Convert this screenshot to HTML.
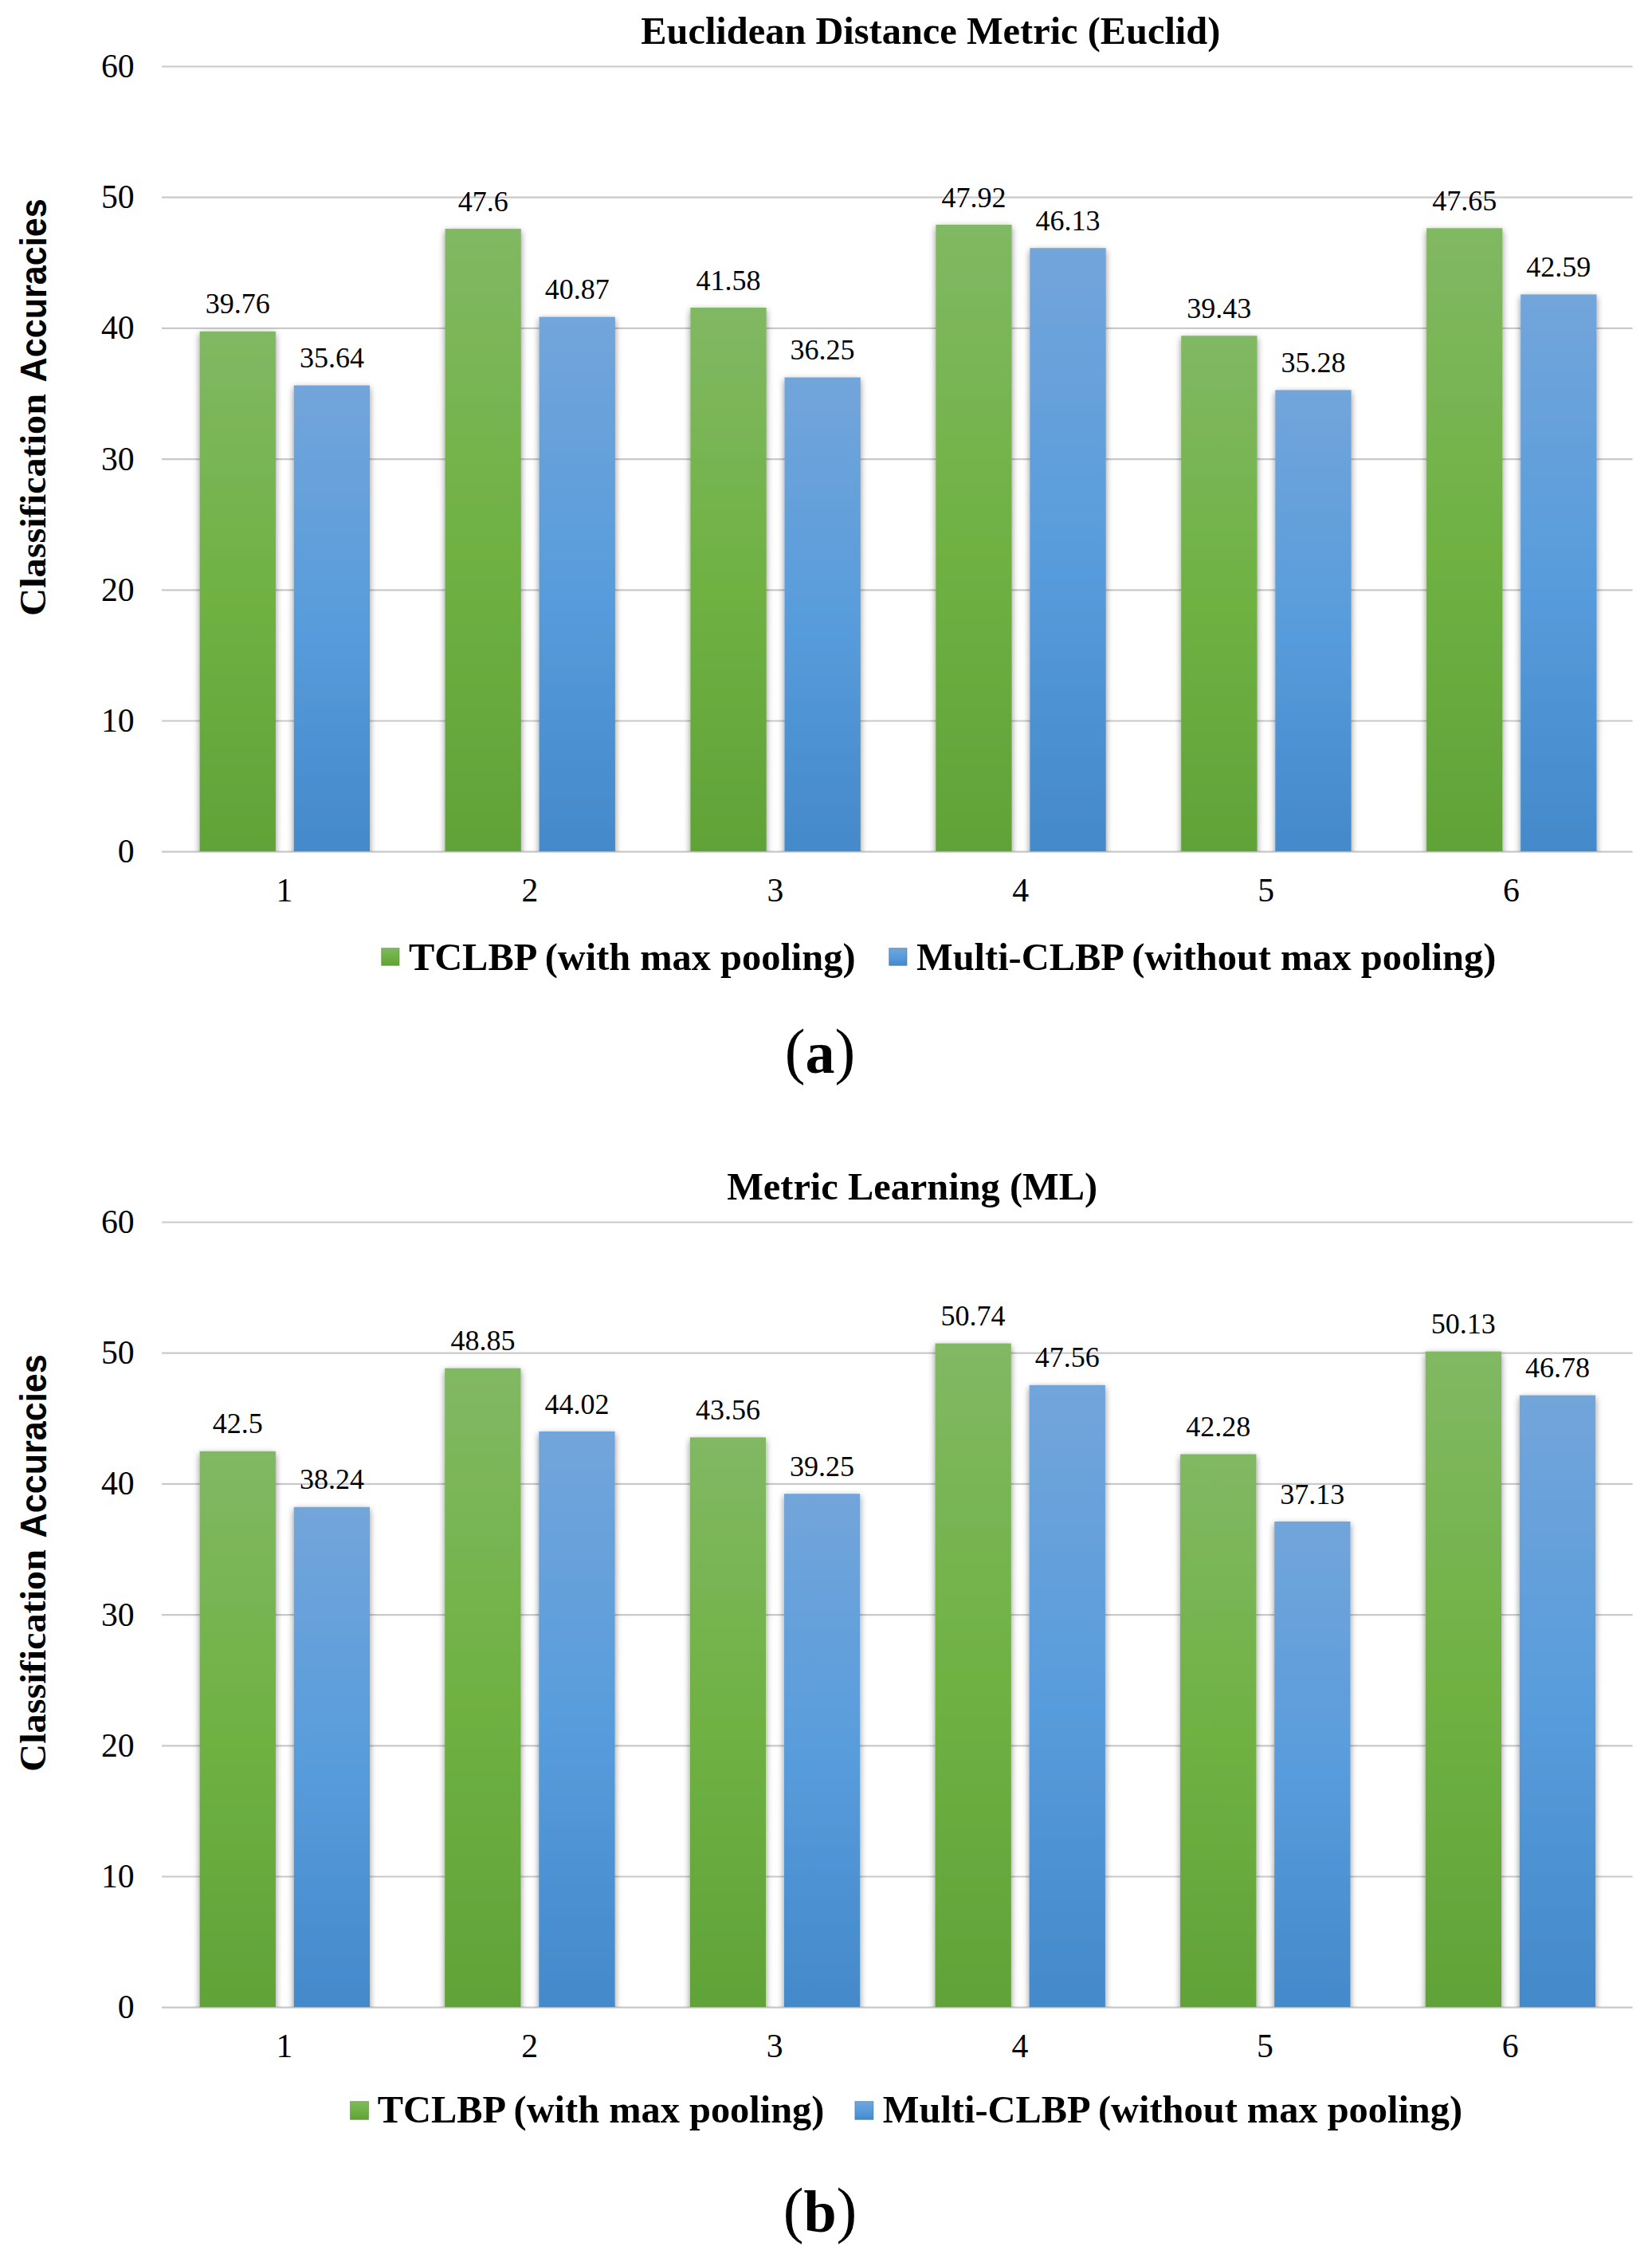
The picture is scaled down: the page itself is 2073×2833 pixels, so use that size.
<!DOCTYPE html>
<html lang="en"><head><meta charset="utf-8"><title>Classification Accuracies</title>
<style>
html,body{margin:0;padding:0;background:#fff;}
body{width:2073px;height:2833px;overflow:hidden;}
svg{display:block;}
text{fill:#000;font-family:"Liberation Serif","Times New Roman",serif;}
.b{font-weight:bold;font-size:48.40px;}
.tick{font-size:41.70px;}
.dl{font-size:36.00px;text-anchor:middle;}
.yl{font-variant-ligatures:none;}
.sans{font-family:"Liberation Sans",Arial,sans-serif;font-weight:bold;}
.sub{font-size:74px;text-anchor:middle;}
</style></head><body>
<svg width="2073" height="2833" viewBox="0 0 2073 2833">
<defs>
<linearGradient id="gg" x1="0" y1="0" x2="0" y2="1">
<stop offset="0" stop-color="#81b863"/><stop offset="0.5" stop-color="#6fb143"/><stop offset="1" stop-color="#60a237"/>
</linearGradient>
<linearGradient id="gb" x1="0" y1="0" x2="0" y2="1">
<stop offset="0" stop-color="#72a5da"/><stop offset="0.5" stop-color="#589cdc"/><stop offset="1" stop-color="#4389c9"/>
</linearGradient>
<filter id="sh" x="-20%" y="-5%" width="140%" height="110%">
<feGaussianBlur in="SourceAlpha" stdDeviation="4.00"/>
<feOffset dx="0" dy="2.50" result="o"/>
<feComponentTransfer><feFuncA type="linear" slope="0.45"/></feComponentTransfer>
<feMerge><feMergeNode/><feMergeNode in="SourceGraphic"/></feMerge>
</filter>
</defs>
<rect width="2073" height="2833" fill="#fff"/>

<g id="chart0">
<text class="b" x="1167.8" y="54.9" text-anchor="middle">Euclidean Distance Metric (Euclid)</text>
<line x1="203.0" x2="2048.6" y1="1068.7" y2="1068.7" stroke="#c9c9c9" stroke-width="2.2"/>
<line x1="203.0" x2="2048.6" y1="904.5" y2="904.5" stroke="#c9c9c9" stroke-width="2.2"/>
<line x1="203.0" x2="2048.6" y1="740.3" y2="740.3" stroke="#c9c9c9" stroke-width="2.2"/>
<line x1="203.0" x2="2048.6" y1="576.1" y2="576.1" stroke="#c9c9c9" stroke-width="2.2"/>
<line x1="203.0" x2="2048.6" y1="411.9" y2="411.9" stroke="#c9c9c9" stroke-width="2.2"/>
<line x1="203.0" x2="2048.6" y1="247.7" y2="247.7" stroke="#c9c9c9" stroke-width="2.2"/>
<line x1="203.0" x2="2048.6" y1="83.5" y2="83.5" stroke="#c9c9c9" stroke-width="2.2"/>
<text class="tick" x="168.6" y="1082.2" text-anchor="end">0</text>
<text class="tick" x="168.6" y="918.0" text-anchor="end">10</text>
<text class="tick" x="168.6" y="753.8" text-anchor="end">20</text>
<text class="tick" x="168.6" y="589.6" text-anchor="end">30</text>
<text class="tick" x="168.6" y="425.4" text-anchor="end">40</text>
<text class="tick" x="168.6" y="261.2" text-anchor="end">50</text>
<text class="tick" x="168.6" y="97.0" text-anchor="end">60</text>
<text class="b yl" transform="translate(57.4,772.7) rotate(-90) scale(1.0310,1)" style="font-size:46.8px">Classification</text>
<text class="b sans yl" transform="translate(58.1,479.4) rotate(-90) scale(0.9377,1)" style="font-size:46.0px">Accuracies</text>
<clipPath id="cp0"><rect x="203.0" y="43.5" width="1845.6" height="1024.7"/></clipPath>
<g clip-path="url(#cp0)">
<rect x="250.6" y="415.8" width="95.3" height="660.4" fill="url(#gg)" filter="url(#sh)"/>
<rect x="368.7" y="483.5" width="95.3" height="592.7" fill="url(#gb)" filter="url(#sh)"/>
<rect x="558.5" y="287.1" width="95.3" height="789.1" fill="url(#gg)" filter="url(#sh)"/>
<rect x="676.6" y="397.6" width="95.3" height="678.6" fill="url(#gb)" filter="url(#sh)"/>
<rect x="866.4" y="386.0" width="95.3" height="690.2" fill="url(#gg)" filter="url(#sh)"/>
<rect x="984.5" y="473.5" width="95.3" height="602.7" fill="url(#gb)" filter="url(#sh)"/>
<rect x="1174.3" y="281.9" width="95.3" height="794.3" fill="url(#gg)" filter="url(#sh)"/>
<rect x="1292.4" y="311.2" width="95.3" height="765.0" fill="url(#gb)" filter="url(#sh)"/>
<rect x="1482.2" y="421.3" width="95.3" height="654.9" fill="url(#gg)" filter="url(#sh)"/>
<rect x="1600.3" y="489.4" width="95.3" height="586.8" fill="url(#gb)" filter="url(#sh)"/>
<rect x="1790.1" y="286.3" width="95.3" height="789.9" fill="url(#gg)" filter="url(#sh)"/>
<rect x="1908.2" y="369.4" width="95.3" height="706.8" fill="url(#gb)" filter="url(#sh)"/>
</g>
<text class="dl" x="298.2" y="393.4">39.76</text>
<text class="dl" x="416.4" y="461.1">35.64</text>
<text class="tick" x="357.0" y="1130.9" text-anchor="middle">1</text>
<text class="dl" x="606.2" y="264.7">47.6</text>
<text class="dl" x="724.2" y="375.2">40.87</text>
<text class="tick" x="664.9" y="1130.9" text-anchor="middle">2</text>
<text class="dl" x="914.0" y="363.6">41.58</text>
<text class="dl" x="1032.1" y="451.1">36.25</text>
<text class="tick" x="972.8" y="1130.9" text-anchor="middle">3</text>
<text class="dl" x="1222.0" y="259.5">47.92</text>
<text class="dl" x="1340.0" y="288.8">46.13</text>
<text class="tick" x="1280.7" y="1130.9" text-anchor="middle">4</text>
<text class="dl" x="1529.8" y="398.9">39.43</text>
<text class="dl" x="1647.9" y="467.0">35.28</text>
<text class="tick" x="1588.6" y="1130.9" text-anchor="middle">5</text>
<text class="dl" x="1837.8" y="263.9">47.65</text>
<text class="dl" x="1955.8" y="347.0">42.59</text>
<text class="tick" x="1896.5" y="1130.9" text-anchor="middle">6</text>
<rect x="478.7" y="1189.6" width="22.3" height="21.7" fill="url(#gg)" stroke="#4f8a2c" stroke-opacity="0.55" stroke-width="1"/>
<text class="b" x="512.9" y="1216.6">TCLBP (with max pooling)</text>
<rect x="1115.7" y="1189.6" width="22.3" height="21.7" fill="url(#gb)" stroke="#2f6fae" stroke-opacity="0.55" stroke-width="1"/>
<text class="b" x="1150.0" y="1216.6">Multi-CLBP (without max pooling)</text>
<text class="sub" x="1029.0" y="1346.0"><tspan font-size="77.3" dy="-1">(</tspan><tspan font-weight="bold" dy="1">a</tspan><tspan font-size="77.3" dy="-1">)</tspan></text>
</g>
<g id="chart1">
<text class="b" x="1144.6" y="1504.9" text-anchor="middle">Metric Learning (ML)</text>
<line x1="203.0" x2="2048.6" y1="2518.7" y2="2518.7" stroke="#c9c9c9" stroke-width="2.2"/>
<line x1="203.0" x2="2048.6" y1="2354.5" y2="2354.5" stroke="#c9c9c9" stroke-width="2.2"/>
<line x1="203.0" x2="2048.6" y1="2190.3" y2="2190.3" stroke="#c9c9c9" stroke-width="2.2"/>
<line x1="203.0" x2="2048.6" y1="2026.1" y2="2026.1" stroke="#c9c9c9" stroke-width="2.2"/>
<line x1="203.0" x2="2048.6" y1="1861.9" y2="1861.9" stroke="#c9c9c9" stroke-width="2.2"/>
<line x1="203.0" x2="2048.6" y1="1697.7" y2="1697.7" stroke="#c9c9c9" stroke-width="2.2"/>
<line x1="203.0" x2="2048.6" y1="1533.5" y2="1533.5" stroke="#c9c9c9" stroke-width="2.2"/>
<text class="tick" x="168.6" y="2532.2" text-anchor="end">0</text>
<text class="tick" x="168.6" y="2368.0" text-anchor="end">10</text>
<text class="tick" x="168.6" y="2203.8" text-anchor="end">20</text>
<text class="tick" x="168.6" y="2039.6" text-anchor="end">30</text>
<text class="tick" x="168.6" y="1875.4" text-anchor="end">40</text>
<text class="tick" x="168.6" y="1711.2" text-anchor="end">50</text>
<text class="tick" x="168.6" y="1547.0" text-anchor="end">60</text>
<text class="b yl" transform="translate(57.4,2222.7) rotate(-90) scale(1.0310,1)" style="font-size:46.8px">Classification</text>
<text class="b sans yl" transform="translate(58.1,1929.4) rotate(-90) scale(0.9377,1)" style="font-size:46.0px">Accuracies</text>
<clipPath id="cp1"><rect x="203.0" y="1493.5" width="1845.6" height="1024.7"/></clipPath>
<g clip-path="url(#cp1)">
<rect x="250.6" y="1820.8" width="95.3" height="705.3" fill="url(#gg)" filter="url(#sh)"/>
<rect x="368.7" y="1890.8" width="95.3" height="635.4" fill="url(#gb)" filter="url(#sh)"/>
<rect x="558.2" y="1716.6" width="95.3" height="809.6" fill="url(#gg)" filter="url(#sh)"/>
<rect x="676.3" y="1795.9" width="95.3" height="730.3" fill="url(#gb)" filter="url(#sh)"/>
<rect x="865.8" y="1803.4" width="95.3" height="722.8" fill="url(#gg)" filter="url(#sh)"/>
<rect x="983.9" y="1874.2" width="95.3" height="652.0" fill="url(#gb)" filter="url(#sh)"/>
<rect x="1173.5" y="1685.5" width="95.3" height="840.7" fill="url(#gg)" filter="url(#sh)"/>
<rect x="1291.6" y="1737.8" width="95.3" height="788.4" fill="url(#gb)" filter="url(#sh)"/>
<rect x="1481.1" y="1824.5" width="95.3" height="701.7" fill="url(#gg)" filter="url(#sh)"/>
<rect x="1599.2" y="1909.0" width="95.3" height="617.2" fill="url(#gb)" filter="url(#sh)"/>
<rect x="1788.7" y="1695.6" width="95.3" height="830.6" fill="url(#gg)" filter="url(#sh)"/>
<rect x="1906.8" y="1750.6" width="95.3" height="775.6" fill="url(#gb)" filter="url(#sh)"/>
</g>
<text class="dl" x="298.2" y="1798.4">42.5</text>
<text class="dl" x="416.4" y="1868.4">38.24</text>
<text class="tick" x="357.0" y="2580.9" text-anchor="middle">1</text>
<text class="dl" x="605.9" y="1694.2">48.85</text>
<text class="dl" x="724.0" y="1773.5">44.02</text>
<text class="tick" x="664.6" y="2580.9" text-anchor="middle">2</text>
<text class="dl" x="913.5" y="1781.0">43.56</text>
<text class="dl" x="1031.6" y="1851.8">39.25</text>
<text class="tick" x="972.2" y="2580.9" text-anchor="middle">3</text>
<text class="dl" x="1221.1" y="1663.1">50.74</text>
<text class="dl" x="1339.2" y="1715.4">47.56</text>
<text class="tick" x="1279.9" y="2580.9" text-anchor="middle">4</text>
<text class="dl" x="1528.7" y="1802.1">42.28</text>
<text class="dl" x="1646.8" y="1886.6">37.13</text>
<text class="tick" x="1587.5" y="2580.9" text-anchor="middle">5</text>
<text class="dl" x="1836.3" y="1673.2">50.13</text>
<text class="dl" x="1954.4" y="1728.2">46.78</text>
<text class="tick" x="1895.1" y="2580.9" text-anchor="middle">6</text>
<rect x="439.5" y="2636.6" width="23.0" height="22.7" fill="url(#gg)" stroke="#4f8a2c" stroke-opacity="0.55" stroke-width="1"/>
<text class="b" x="473.8" y="2662.7">TCLBP (with max pooling)</text>
<rect x="1072.9" y="2636.6" width="23.0" height="22.7" fill="url(#gb)" stroke="#2f6fae" stroke-opacity="0.55" stroke-width="1"/>
<text class="b" x="1107.8" y="2662.7">Multi-CLBP (without max pooling)</text>
<text class="sub" x="1029.0" y="2800.4"><tspan font-size="77.3" dy="-1">(</tspan><tspan font-weight="bold" dy="1">b</tspan><tspan font-size="77.3" dy="-1">)</tspan></text>
</g>
</svg></body></html>
